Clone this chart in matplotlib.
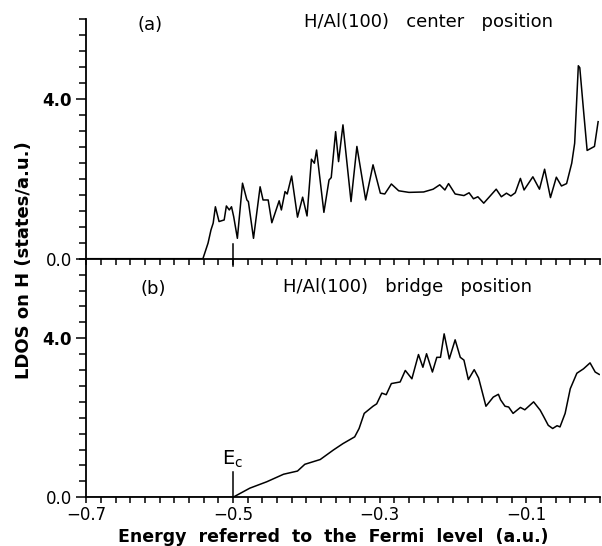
import matplotlib
matplotlib.use('Agg')
import numpy as np
from matplotlib import pyplot as plt
from matplotlib.ticker import MultipleLocator

# (a) center position
energy_a = [-0.70, -0.541, -0.534, -0.530, -0.527, -0.524, -0.519, -0.512, -0.509, -0.505,
            -0.502, -0.499, -0.494, -0.487, -0.481, -0.479, -0.472, -0.463, -0.459, -0.452,
            -0.447, -0.437, -0.434, -0.429, -0.426, -0.420, -0.412, -0.405, -0.399, -0.393,
            -0.389, -0.386, -0.376, -0.369, -0.366, -0.360, -0.356, -0.350, -0.339, -0.331,
            -0.319, -0.309, -0.299, -0.293, -0.284, -0.274, -0.260, -0.240, -0.227, -0.218,
            -0.211, -0.206, -0.197, -0.191, -0.185, -0.178, -0.172, -0.166, -0.158, -0.141,
            -0.134, -0.127, -0.121, -0.115, -0.108, -0.103, -0.091, -0.082, -0.075, -0.067,
            -0.059, -0.052, -0.045, -0.038, -0.034, -0.029, -0.027, -0.022, -0.017, -0.007,
            -0.002]
ldos_a = [0.0, 0.0, 0.39, 0.72, 0.89, 1.30, 0.93, 0.97, 1.32, 1.22,
          1.30, 1.05, 0.51, 1.89, 1.47, 1.43, 0.51, 1.80, 1.47, 1.47,
          0.90, 1.45, 1.22, 1.68, 1.62, 2.07, 1.04, 1.54, 1.07, 2.49,
          2.39, 2.72, 1.16, 1.97, 2.03, 3.18, 2.43, 3.35, 1.43, 2.81,
          1.47, 2.35, 1.64, 1.62, 1.87, 1.70, 1.66, 1.67, 1.74, 1.85,
          1.72, 1.88, 1.62, 1.60, 1.58, 1.65, 1.50, 1.55, 1.39, 1.74,
          1.55, 1.64, 1.57, 1.65, 2.01, 1.72, 2.05, 1.74, 2.24, 1.53,
          2.04, 1.82, 1.88, 2.39, 2.89, 4.83, 4.78, 3.73, 2.71, 2.81,
          3.43]

# (b) bridge position
energy_b = [-0.70, -0.500, -0.477, -0.454, -0.431, -0.412, -0.402, -0.381, -0.363, -0.350,
            -0.334, -0.328, -0.321, -0.309, -0.304, -0.297, -0.291, -0.284, -0.272, -0.265,
            -0.256, -0.247, -0.241, -0.236, -0.228, -0.222, -0.217, -0.212, -0.205, -0.197,
            -0.190, -0.185, -0.179, -0.171, -0.165, -0.155, -0.145, -0.138, -0.135, -0.129,
            -0.124, -0.118, -0.108, -0.102, -0.090, -0.081, -0.076, -0.070, -0.064, -0.058,
            -0.054, -0.047, -0.040, -0.031, -0.022, -0.013, -0.006, -0.0005]
ldos_b = [0.0, 0.0, 0.23, 0.39, 0.58, 0.66, 0.83, 0.95, 1.19, 1.35,
          1.52, 1.73, 2.11, 2.29, 2.35, 2.62, 2.58, 2.86, 2.90, 3.19,
          2.98, 3.59, 3.27, 3.61, 3.15, 3.52, 3.52, 4.11, 3.48, 3.96,
          3.52, 3.45, 2.96, 3.21, 3.00, 2.29, 2.52, 2.59, 2.45, 2.29,
          2.27, 2.11, 2.26, 2.20, 2.40, 2.19, 2.02, 1.81, 1.73, 1.80,
          1.77, 2.11, 2.73, 3.12, 3.23, 3.38, 3.15, 3.09]

x_labels = ['\u22120.7', '\u22120.5', '\u22120.3', '\u22120.1']
x_major = [-0.7, -0.5, -0.3, -0.1]
e_c = -0.5

fig = plt.figure(figsize=(6.02, 5.46), dpi=100)
ax1 = fig.add_axes([0.1434, 0.5262, 0.8526, 0.439])
ax2 = fig.add_axes([0.1434, 0.0892, 0.8526, 0.437])

for ax in (ax1, ax2):
    ax.set_xlim(-0.7, 0.0)
    ax.set_ylim(0, 6)
    ax.spines['top'].set_visible(False)
    ax.spines['right'].set_visible(False)
    ax.spines['left'].set_linewidth(1.3)
    ax.spines['bottom'].set_linewidth(1.3)
    ax.set_xticks(x_major)
    ax.xaxis.set_minor_locator(MultipleLocator(0.02))
    ax.set_yticks([0, 4])
    ax.yaxis.set_minor_locator(MultipleLocator(0.4))
    ax.tick_params(which='both', direction='out', width=1.1, color='black')
    ax.tick_params(axis='x', which='both', length=4.5, pad=1.5)
    ax.tick_params(axis='y', which='major', length=7)
    ax.tick_params(axis='y', which='minor', length=5)
    ax.set_yticklabels(['0.0', '4.0'], fontsize=12)
    ax.get_yticklabels()[1].set_fontweight('bold')
    ax.patch.set_alpha(0)

ax1.set_xticklabels([])
ax2.set_xticklabels(x_labels, fontsize=12)

ax1.plot(energy_a, ldos_a, color='black', lw=1.1)
ax2.plot(energy_b, ldos_b, color='black', lw=1.1)

# E_c markers
ax1.plot([e_c, e_c], [-0.18, 0.37], color='black', lw=1.1, clip_on=False)
ax2.plot([e_c, e_c], [0, 0.63], color='black', lw=1.1, clip_on=False)
ax2.text(e_c, 0.68, 'E$_\\mathregular{c}$', fontsize=14, ha='center', va='bottom')

ax1.text(-0.613, 5.85, '(a)', fontsize=13, ha='center', va='center')
ax1.text(-0.4035, 5.93, 'H/Al(100)   center   position', fontsize=13, ha='left', va='center')
ax2.text(-0.609, 5.25, '(b)', fontsize=13, ha='center', va='center')
ax2.text(-0.432, 5.3, 'H/Al(100)   bridge   position', fontsize=13, ha='left', va='center')

fig.text(0.553, 0.017, 'Energy  referred  to  the  Fermi  level  (a.u.)', fontsize=12.5,
         fontweight='bold', ha='center', va='center')
fig.text(0.04, 0.524, 'LDOS on H (states/a.u.)', fontsize=13, fontweight='bold',
         rotation=90, ha='center', va='center')

fig.savefig('out.png', dpi=100)
